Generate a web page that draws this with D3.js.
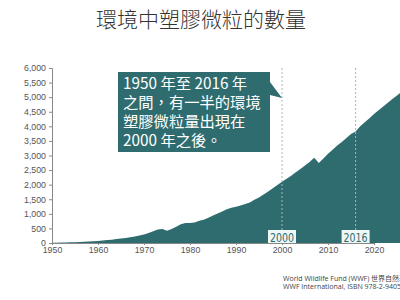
<!DOCTYPE html>
<html><head><meta charset="utf-8">
<script src="https://cdn.jsdelivr.net/npm/d3@7"></script>
<style>
html,body{margin:0;padding:0;background:#fff;overflow:hidden;}
svg{display:block;}
</style></head>
<body>
<svg id="c" width="400" height="300"></svg>
<script>
const title = "環境中塑膠微粒的數量";
const years = d3.range(1950, 2027);
const values = [5,10,15,20,25,30,38,45,52,60,
  70,85,100,115,135,155,175,200,225,255,
  290,340,400,460,480,420,480,560,640,690,
  690,700,760,800,870,940,1010,1080,1160,1210,
  1240,1290,1340,1390,1480,1560,1660,1770,1880,1990,
  2100,2200,2310,2430,2540,2660,2780,2920,2740,2900,
  3060,3200,3340,3460,3600,3740,3820,4000,4140,4280,
  4420,4550,4680,4810,4940,5060,5190];
const yTicks = [0,500,1000,1500,2000,2500,3000,3500,4000,4500,5000,5500,6000];
const xTicks = [1950,1960,1970,1980,1990,2000,2010,2020];
const markers = [2000, 2016];
const noteLines = ["1950 年至 2016 年","之間，有一半的環境","塑膠微粒量出現在","2000 年之後。"];
const sourceLines = ["World Wildlife Fund (WWF) 世界自然基金會","WWF International, ISBN 978-2-940529-96-8"];

const teal = "#2f6c6f";
const svg = d3.select("#c");
const x = d3.scaleLinear().domain([1950, 2020]).range([52, 374]);
const y = d3.scaleLinear().domain([0, 6000]).range([243, 68]);

svg.append("text").attr("x", 201).attr("y", 27).attr("text-anchor", "middle")
  .attr("font-family", "'Noto Sans CJK TC', sans-serif").attr("font-size", 21)
  .attr("font-weight", 300).attr("fill", "#333").text(title);

// area
const data = years.map((yr, i) => ({yr, v: values[i]}));
svg.append("path").datum(data)
  .attr("d", d3.area().x(d => x(d.yr)).y0(y(0)).y1(d => y(d.v)))
  .attr("fill", teal);

// y axis
const ya = svg.append("g").attr("transform", "translate(52,0)")
  .call(d3.axisLeft(y).tickValues(yTicks).tickSize(3).tickPadding(3).tickFormat(d3.format(",")));
ya.select(".domain").attr("stroke", "#888");
ya.selectAll(".tick line").attr("stroke", "#888");
ya.selectAll("text").attr("font-family", "'Liberation Sans', Arial, sans-serif").attr("font-size", 8.8).attr("fill", "#555");

// x axis
const xa = svg.append("g").attr("transform", "translate(0,243)")
  .call(d3.axisBottom(x).tickValues(xTicks).tickSize(2).tickPadding(2).tickFormat(d3.format("d")));
xa.select(".domain").attr("stroke", "#888");
xa.selectAll(".tick line").attr("stroke", "#888");
xa.selectAll("text").attr("font-family", "'Liberation Sans', Arial, sans-serif").attr("font-size", 8.8).attr("fill", "#555");

// markers
markers.forEach(m => {
  svg.append("line").attr("x1", x(m)).attr("x2", x(m)).attr("y1", 68).attr("y2", 231)
    .attr("stroke", "#aab4b4").attr("stroke-width", 1).attr("stroke-dasharray", "2,2");
  svg.append("rect").attr("x", x(m) - 14).attr("y", 230).attr("width", 28).attr("height", 13)
    .attr("fill", "#eef7f6");
  svg.append("text").attr("x", x(m)).attr("y", 241.5).attr("text-anchor", "middle")
    .attr("font-family", "'DejaVu Sans Condensed', 'Liberation Sans Narrow', sans-serif")
    .attr("font-size", 13).attr("fill", teal).attr("textLength", 24).attr("lengthAdjust", "spacingAndGlyphs").text(m);
});

// note box
svg.append("path").attr("d", `M270,82 L${x(2000)},98 L270,95 Z`).attr("fill", teal);
svg.append("rect").attr("x", 118).attr("y", 72).attr("width", 152).attr("height", 80).attr("fill", teal);
noteLines.forEach((t, i) => {
  svg.append("text").attr("x", 123).attr("y", 89 + i * 19)
    .attr("font-family", "'Noto Sans CJK TC', sans-serif").attr("font-size", 15.3)
    .attr("fill", "#fff").text(t);
});

// source
sourceLines.forEach((t, i) => {
  svg.append("text").attr("x", 283).attr("y", 281 + i * 8)
    .attr("font-family", "'Open Sans', 'Noto Sans CJK TC', sans-serif").attr("font-size", 7)
    .attr("fill", "#444").text(t);
});
</script>
</body></html>
